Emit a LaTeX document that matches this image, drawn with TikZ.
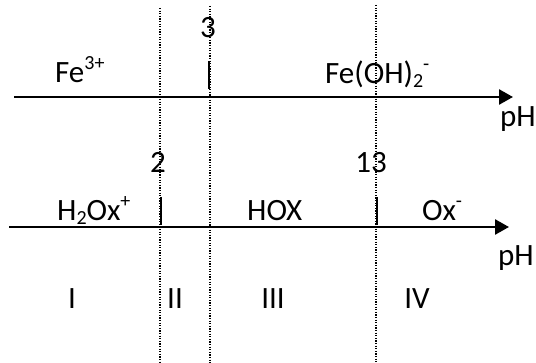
\documentclass[tikz,border=0pt]{standalone}
\usepackage{fontspec}
\setmainfont{Carlito}
\usetikzlibrary{arrows.meta}
\newcommand\supx[1]{\raisebox{0.45em}{\fontsize{20}{20}\selectfont #1}}
\newcommand\subx[1]{\raisebox{-0.1em}{\fontsize{20}{20}\selectfont #1}}
\begin{document}
\begin{tikzpicture}[x=1pt,y=-1pt,
  every node/.style={font=\fontsize{31}{37}\selectfont, inner sep=0pt},
  lbl/.style={anchor=base west},
  num/.style={anchor=base},
  axis/.style={line width=2.6pt, -{Triangle[length=14pt,width=15pt]}},
  tick/.style={line width=2.2pt},
  guide/.style={line width=1.6pt, dash pattern=on 1.3pt off 1.3pt}]
\useasboundingbox (0,0) rectangle (536,363);
% guide lines
\coordinate (g1t) at (160,8);  \coordinate (g1b) at (160,363);
\coordinate (g2t) at (210,6);  \coordinate (g2b) at (210,363);
\coordinate (g3t) at (376,5);  \coordinate (g3b) at (376,363);
\draw[guide] (g1t) -- (g1b);
\draw[guide] (g2t) -- (g2b);
\draw[guide] (g3t) -- (g3b);
% top axis
\coordinate (a1s) at (14,97);  \coordinate (a1e) at (513,97);
\draw[axis] (a1s) -- (a1e);
\coordinate (t1a) at (209,61); \coordinate (t1b) at (209,89);
\draw[tick] (t1a) -- (t1b);
\node[num] (n3) at (208,38) {3};
\node[lbl] (fe3) at (55,83) {Fe\supx{3+}};
\node[lbl] (feoh) at (325,84) {Fe(OH)\subx{2}\supx{-}};
\node[lbl] (ph1) at (500,127) {pH};
% bottom axis
\coordinate (a2s) at (9,227);  \coordinate (a2e) at (509,227);
\draw[axis] (a2s) -- (a2e);
\coordinate (t2a) at (161,197); \coordinate (t2b) at (161,225);
\draw[tick] (t2a) -- (t2b);
\coordinate (t3a) at (377,197); \coordinate (t3b) at (377,225);
\draw[tick] (t3a) -- (t3b);
\node[num] (n2) at (158,173) {2};
\node[num] (n13) at (371,173) {13};
\node[lbl] (h2ox) at (57,221) {H\subx{2}Ox\supx{+}};
\node[lbl] (hox) at (247,221) {HOX};
\node[lbl] (ox) at (422,221) {Ox\supx{-}};
\node[lbl] (ph2) at (498,266) {pH};
% regions
\node[num] (r1) at (72,309) {I};
\node[num] (r2) at (175,309) {II};
\node[num] (r3) at (273,309) {III};
\node[num] (r4) at (417,309) {IV};
\end{tikzpicture}
\end{document}
